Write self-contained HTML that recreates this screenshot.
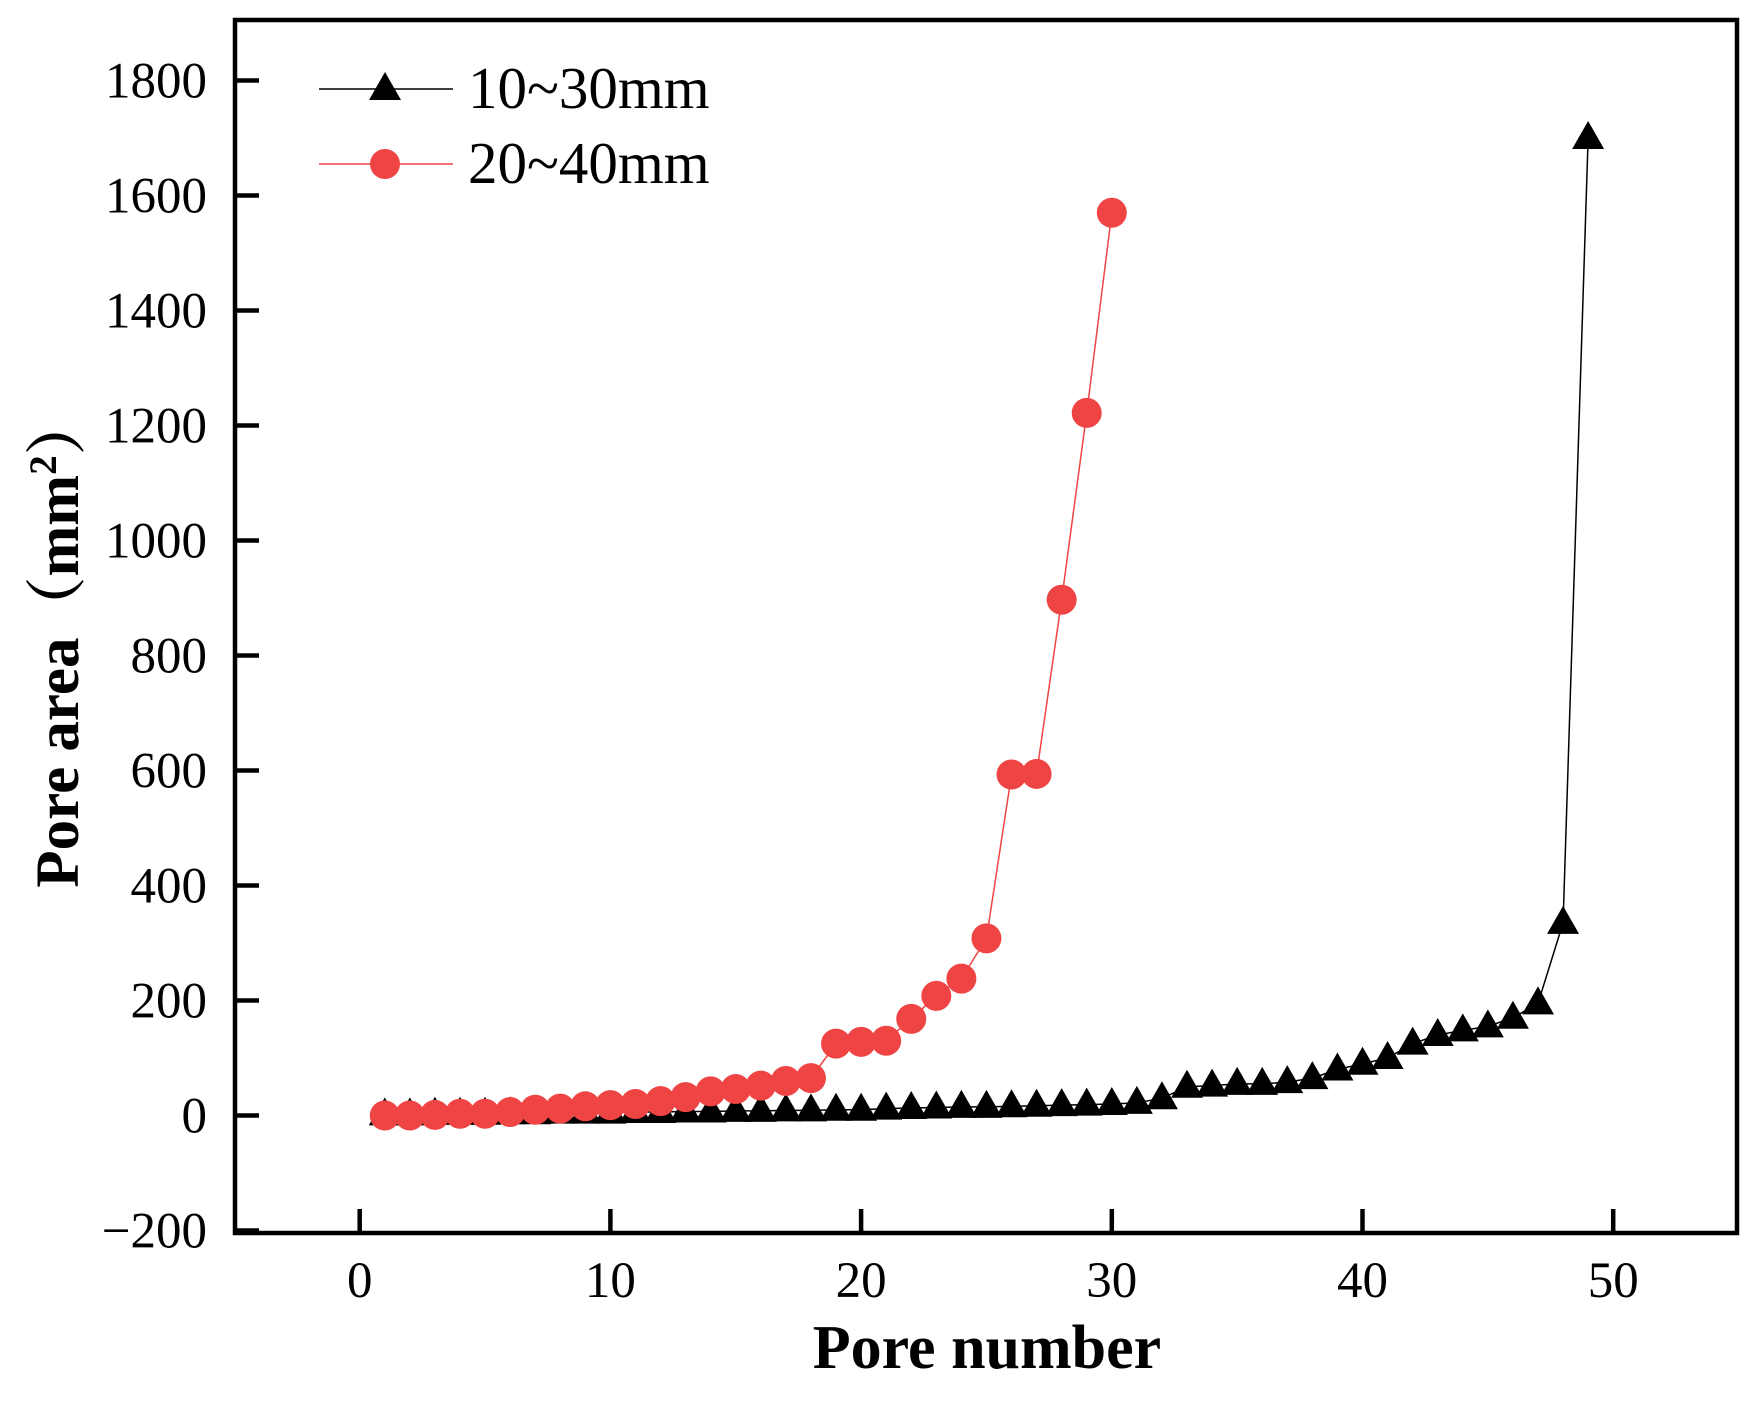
<!DOCTYPE html>
<html><head><meta charset="utf-8"><style>
html,body{margin:0;padding:0;background:#fff;}
svg{display:block;}
text{font-family:"Liberation Serif","Noto Serif CJK SC",serif;}
</style></head><body>
<svg id="c" width="1754" height="1409" viewBox="0 0 1754 1409" xmlns="http://www.w3.org/2000/svg"></svg>
<script>
const s=document.getElementById('c');
const X=v=>359.7+v*25.07, Y=v=>1115.5-v*0.575;
let h='';
h+='<rect x="235" y="20" width="1502" height="1213" fill="none" stroke="#000" stroke-width="4.5"/>';
for(let v=-200;v<=1800;v+=200){const y=Y(v);h+=`<line x1="235" y1="${y}" x2="259" y2="${y}" stroke="#000" stroke-width="4.5"/>`;
h+=`<text x="207" y="${y+17}" font-size="51" text-anchor="end">${v<0?'\u2212'+(-v):v}</text>`;}
for(let v=0;v<=50;v+=10){const x=X(v);h+=`<line x1="${x}" y1="1233" x2="${x}" y2="1209" stroke="#000" stroke-width="4.5"/>`;
h+=`<text x="${x}" y="1297" font-size="51" text-anchor="middle">${v}</text>`;}
const b=[2,2,3,3,3,4,4,5,5,5,6,6,7,7,8,8,9,9,10,10,12,13,14,15,15,16,17,18,19,20,22,30,50,52,55,55,58,65,80,90,100,125,140,148,155,170,195,335,1700];
const r=[0,0,1,3,3,6,10,12,16,18,20,25,32,42,46,52,60,65,125,128,130,168,208,238,308,593,594,897,1222,1570];
const tri=(x,y)=>`<polygon points="${x},${y-17} ${x-16},${y+11} ${x+16},${y+11}" fill="#000"/>`;
h+=`<polyline fill="none" stroke="#000" stroke-width="1.5" points="${b.map((v,i)=>X(i+1)+','+Y(v)).join(' ')}"/>`;
b.forEach((v,i)=>h+=tri(X(i+1),Y(v)));
h+=`<polyline fill="none" stroke="#ef4444" stroke-width="1.5" points="${r.map((v,i)=>X(i+1)+','+Y(v)).join(' ')}"/>`;
r.forEach((v,i)=>h+=`<circle cx="${X(i+1)}" cy="${Y(v)}" r="15" fill="#ef4444"/>`);
h+=`<line x1="319" y1="89" x2="453" y2="89" stroke="#000" stroke-width="1.5"/>`+tri(385,89);
h+=`<text x="468" y="108" font-size="59">10~30mm</text>`;
h+=`<line x1="319" y1="164" x2="453" y2="164" stroke="#ef4444" stroke-width="1.5"/><circle cx="385" cy="164" r="15" fill="#ef4444"/>`;
h+=`<text x="468" y="183" font-size="59">20~40mm</text>`;
h+=`<text x="987" y="1368" font-size="62" font-weight="bold" text-anchor="middle">Pore number</text>`;
h+=`<text transform="translate(78,641) rotate(-90)" font-size="61" font-weight="bold" text-anchor="middle">Pore area（mm<tspan font-size="39" dy="-22">2</tspan><tspan dy="22">）</tspan></text>`;
s.innerHTML=h;
</script>
</body></html>
